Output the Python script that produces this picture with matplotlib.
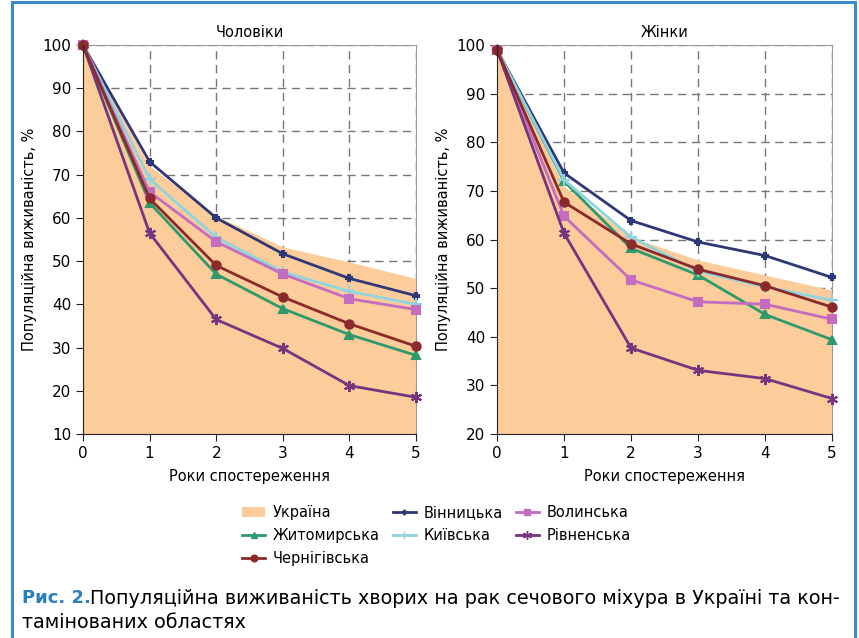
import matplotlib
matplotlib.use('Agg')

import numpy as np
import matplotlib.pyplot as plt
from matplotlib.patches import Rectangle, Patch
from matplotlib.lines import Line2D

plt.rcParams['font.family'] = ['DejaVu Sans']

years = [0, 1, 2, 3, 4, 5]

# Чоловіки
men_ukraine = [100, 72, 60.5, 53.3, 49.8, 46]
men_vinn = [100, 73, 60, 51.7, 46, 42]
men_zhyt = [100, 63.5, 47, 39, 33, 28.2]
men_kyiv = [100, 69, 55.5, 47.5, 43, 40]
men_volyn = [100, 66, 54.5, 47, 41.3, 38.8]
men_rivne = [100, 56.5, 36.5, 29.8, 21.2, 18.5]
men_chern = [100, 64.5, 49, 41.7, 35.5, 30.3]

# Жінки
women_ukraine = [99, 71, 60.5, 55.8, 52.7, 49.6]
women_vinn = [99, 73.7, 63.9, 59.5, 56.7, 52.2]
women_zhyt = [99, 72, 58.2, 52.7, 44.6, 39.4]
women_kyiv = [99, 72.3, 60.5, 53.5, 50.3, 47.5]
women_volyn = [99, 64.8, 51.7, 47.2, 46.7, 43.6]
women_rivne = [99, 61.3, 37.7, 33.1, 31.4, 27.3]
women_chern = [99, 67.7, 59.1, 53.9, 50.5, 46.1]

names = ['Вінницька', 'Житомирська', 'Київська', 'Волинська', 'Рівненська', 'Чернігівська']
colors = ['#2f3876', '#2e9a6c', '#8fd4df', '#c46cbf', '#76357f', '#8a2a2c']
markers = ['P', '^', '+', 's', (6, 2, 0), 'o']
msizes = [4, 6, 8, 6, 8, 6]
fill_color = '#fccc9a'

fig = plt.figure(figsize=(8.59, 6.38), dpi=100)

ax1 = fig.add_axes([0.0966, 0.3197, 0.3877, 0.6097])
ax2 = fig.add_axes([0.5786, 0.3197, 0.3900, 0.6097])

panels = [
    (ax1, 'Чоловіки', men_ukraine, [men_vinn, men_zhyt, men_kyiv, men_volyn, men_rivne, men_chern], 10),
    (ax2, 'Жінки', women_ukraine, [women_vinn, women_zhyt, women_kyiv, women_volyn, women_rivne, women_chern], 20),
]

for ax, title, ukr, series, ymin in panels:
    ax.fill_between(years, ymin, ukr, color=fill_color, linewidth=0, zorder=2)
    for vals, c, m, ms in zip(series, colors, markers, msizes):
        ax.plot(years, vals, color=c, marker=m, markersize=ms, linewidth=2,
                markeredgewidth=1.5, zorder=3, clip_on=False)
    ax.set_xlim(0, 5)
    ax.set_ylim(ymin, 100)
    ax.set_xticks(years)
    ax.set_yticks(np.arange(ymin, 101, 10))
    ax.grid(True, linestyle=(0, (6, 4)), color='#777777', linewidth=1, zorder=1)
    ax.set_axisbelow(True)
    for s in ['top', 'right']:
        ax.spines[s].set_color('#999999')
    for s in ['left', 'bottom']:
        ax.spines[s].set_color('#222222')
        ax.spines[s].set_zorder(4)
    ax.tick_params(labelsize=11, length=5, color='#222222')
    ax.set_title(title, fontsize=10.5, pad=6)
    ax.set_xlabel('Роки спостереження', fontsize=10.5, labelpad=6)
    ax.set_ylabel('Популяційна виживаність, %', fontsize=10.5, labelpad=4)

# легенда
h_ukr = Patch(facecolor=fill_color, edgecolor='none')
line_h = [Line2D([], [], color=c, marker=m, markersize=ms * 0.8, linewidth=2)
          for c, m, ms in zip(colors, markers, msizes)]
handles = [h_ukr, line_h[1], line_h[5], line_h[0], line_h[2], line_h[3], line_h[4]]
labels = ['Україна', names[1], names[5], names[0], names[2], names[3], names[4]]
fig.legend(handles, labels, ncol=3, loc='center', bbox_to_anchor=(0.508, 0.16),
           frameon=False, fontsize=10.5, handlelength=1.6, columnspacing=0.9,
           labelspacing=0.55, handletextpad=0.5)

# рамка
fig.patches.append(Rectangle((12 / 859, -0.05), 843 / 859, 1.047, transform=fig.transFigure,
                             fill=False, edgecolor='#3a8bc8', linewidth=2.2))

fig.text(22 / 859, 1 - 598 / 638, 'Рис. 2.', color='#2a7fc0', fontsize=13,
         fontweight='bold', va='center')
fig.text(90 / 859, 1 - 598 / 638,
         'Популяційна виживаність хворих на рак сечового міхура в Україні та кон-',
         fontsize=13.8, va='center')
fig.text(22 / 859, 1 - 622 / 638, 'тамінованих областях', fontsize=13.8, va='center')

plt.savefig('out.png', dpi=100)
